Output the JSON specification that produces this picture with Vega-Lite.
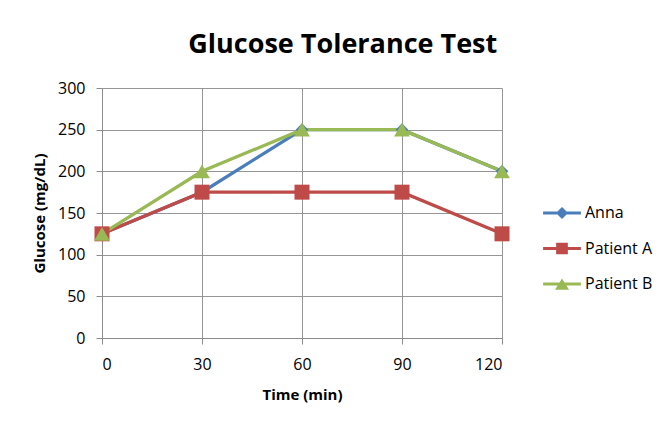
{
  "$schema": "https://vega.github.io/schema/vega-lite/v6.json",
  "width": 400,
  "height": 250,
  "autosize": {"type": "none"},
  "padding": {"left": 102, "top": 88, "right": 163, "bottom": 90},
  "background": "white",
  "title": {
    "text": "Glucose Tolerance Test",
    "font": "Open Sans",
    "fontSize": 27,
    "fontWeight": "bold",
    "color": "#000000",
    "anchor": "middle",
    "frame": "bounds",
    "offset": 21
  },
  "config": {
    "view": {"stroke": null},
    "axis": {
      "domainColor": "#8c8c8c",
      "gridColor": "#969696",
      "tickColor": "#8c8c8c",
      "gridOpacity": 1,
      "labelFont": "Open Sans",
      "labelFontSize": 16,
      "labelColor": "#000000",
      "titleFont": "Open Sans",
      "titleFontSize": 15,
      "titleFontWeight": "bold",
      "titleColor": "#000000",
      "tickSize": 6
    },
    "legend": {
      "labelFont": "Open Sans",
      "labelFontSize": 16,
      "labelColor": "#000000"
    }
  },
  "data": {
    "values": [
      {"time": 0, "glucose": 125, "series": "Anna"},
      {"time": 30, "glucose": 175, "series": "Anna"},
      {"time": 60, "glucose": 250, "series": "Anna"},
      {"time": 90, "glucose": 250, "series": "Anna"},
      {"time": 120, "glucose": 200, "series": "Anna"},
      {"time": 0, "glucose": 125, "series": "Patient A"},
      {"time": 30, "glucose": 175, "series": "Patient A"},
      {"time": 60, "glucose": 175, "series": "Patient A"},
      {"time": 90, "glucose": 175, "series": "Patient A"},
      {"time": 120, "glucose": 125, "series": "Patient A"},
      {"time": 0, "glucose": 125, "series": "Patient B"},
      {"time": 30, "glucose": 200, "series": "Patient B"},
      {"time": 60, "glucose": 250, "series": "Patient B"},
      {"time": 90, "glucose": 250, "series": "Patient B"},
      {"time": 120, "glucose": 200, "series": "Patient B"}
    ]
  },
  "encoding": {
    "x": {
      "field": "time",
      "type": "quantitative",
      "scale": {"domain": [0, 120], "nice": false},
      "axis": {"values": [0, 30, 60, 90, 120], "title": "Time (min)", "grid": true, "labelPadding": 12, "titlePadding": 15}
    },
    "y": {
      "field": "glucose",
      "type": "quantitative",
      "scale": {"domain": [0, 300], "nice": false},
      "axis": {"values": [0, 50, 100, 150, 200, 250, 300], "title": "Glucose (mg/dL)", "grid": true, "labelPadding": 11, "titlePadding": 10}
    }
  },
  "layer": [
    {
      "mark": {"type": "line", "strokeWidth": 3.3},
      "encoding": {
        "color": {
          "field": "series",
          "type": "nominal",
          "scale": {"domain": ["Anna", "Patient A", "Patient B"], "range": ["#4A7EBB", "#BE4B48", "#98B954"]},
          "legend": {
            "title": null,
            "orient": "none",
            "legendX": 451,
            "legendY": 116,
            "symbolSize": 324,
            "rowPadding": 18.5,
            "labelOffset": 14,
            "encode": {
              "symbols": {
                "update": {
                  "shape": {"signal": "datum.value === 'Anna' ? 'M-2.1,-0.17H2.1V0.17H-2.1Z M0,-0.67L0.67,0L0,0.67L-0.67,0Z' : datum.value === 'Patient A' ? 'M-2.1,-0.17H2.1V0.17H-2.1Z M-0.65,-0.65H0.65V0.65H-0.65Z' : 'M-2.1,-0.17H2.1V0.17H-2.1Z M0,-0.6L0.78,0.65H-0.78Z'"},
                  "fill": {"signal": "scale('color', datum.value)"},
                  "stroke": {"value": "transparent"},
                  "strokeWidth": {"value": 0},
                  "opacity": {"value": 1},
                  "fillOpacity": {"value": 1}
                }
              }
            }
          }
        }
      }
    },
    {
      "transform": [{"filter": "datum.series === 'Anna'"}],
      "mark": {"type": "point", "filled": true, "opacity": 1, "shape": "diamond", "size": 160, "color": "#4A7EBB"}
    },
    {
      "transform": [{"filter": "datum.series === 'Patient A'"}],
      "mark": {"type": "point", "filled": true, "opacity": 1, "shape": "square", "size": 225, "color": "#BE4B48"}
    },
    {
      "transform": [{"filter": "datum.series === 'Patient B'"}],
      "mark": {"type": "point", "filled": true, "opacity": 1, "shape": "triangle-up", "size": 250, "color": "#98B954"}
    }
  ]
}
